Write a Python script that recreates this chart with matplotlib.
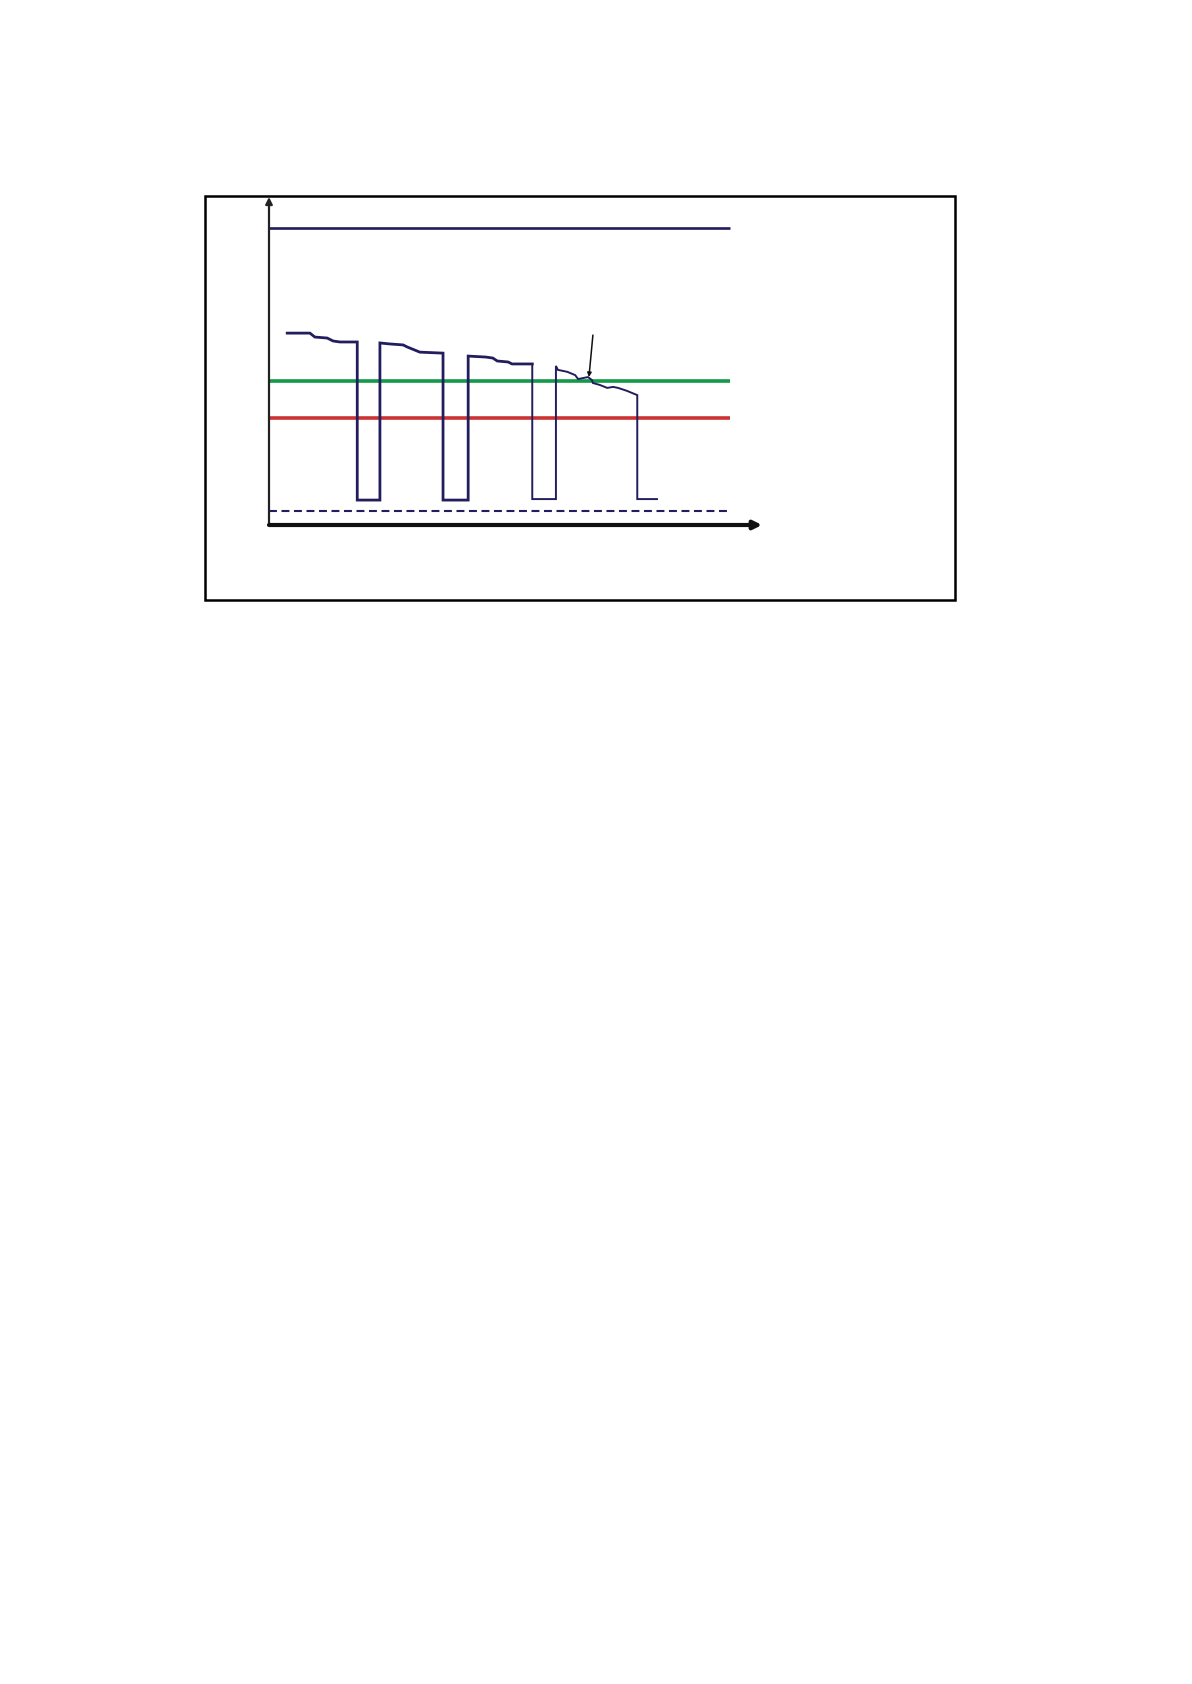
import matplotlib
matplotlib.use("Agg")
import matplotlib.pyplot as plt
from matplotlib.patches import Rectangle

# signal trace (time in % of axis, level in % of axis)
t_signal = [3.7, 8.3, 9.3, 11.8, 13.0, 14.4, 17.9, 17.9, 22.5, 22.5, 24.5, 27.2, 28.0,
            30.6, 35.3, 35.3, 40.4, 40.4, 44.0, 45.4, 46.3, 48.5, 49.3, 53.4]
v_signal = [58.5, 58.5, 57.3, 57.0, 56.1, 55.8, 55.8, 7.6, 7.6, 55.5, 55.2, 54.9, 54.3,
            52.7, 52.4, 7.6, 7.6, 51.5, 51.2, 50.9, 50.0, 49.7, 49.1, 49.1]
t_signal2 = [53.4, 53.4, 58.2, 58.2, 58.6, 60.5, 62.1, 62.7, 64.7, 65.5, 65.7, 67.1,
             68.6, 69.8, 70.8, 72.6, 74.7, 74.7, 78.7]
v_signal2 = [49.1, 7.9, 7.9, 48.5, 47.3, 46.7, 45.7, 44.5, 45.1, 44.2, 43.3, 42.7,
             41.8, 42.1, 41.8, 40.9, 39.6, 7.9, 7.9]

line_end = 93.5
upper_level = 90.5
green_level = 43.9
red_level = 32.6
floor_level = 4.3
arrow_from = (65.7, 57.9)
arrow_to = (64.9, 45.1)

navy = "#221d5e"

fig = plt.figure(figsize=(11.92, 16.84), dpi=100)
fig.patches.append(Rectangle((205 / 1192, 1 - 600 / 1684), 750 / 1192, 404 / 1684,
                             transform=fig.transFigure, fill=False,
                             edgecolor="black", linewidth=1.8))

ax = fig.add_axes([269 / 1192, 1 - 525 / 1684, 493 / 1192, 328 / 1684])
ax.set_xlim(0, 100)
ax.set_ylim(0, 100)
ax.axis("off")

ax.plot([0, line_end], [upper_level] * 2, color=navy, lw=1.9, solid_capstyle="butt")
ax.plot([0, line_end], [green_level] * 2, color="#139a48", lw=2.6, solid_capstyle="butt")
ax.plot([0, line_end], [red_level] * 2, color="#cc3333", lw=2.6, solid_capstyle="butt")
ax.plot([0, line_end], [floor_level] * 2, color=navy, lw=1.5, ls=(0, (3.8, 2.2)))

ax.plot(t_signal, v_signal, color=navy, lw=2.0, solid_joinstyle="miter")
ax.plot(t_signal2, v_signal2, color=navy, lw=1.4, solid_joinstyle="miter")

# axes arrows
ax.annotate("", xy=(0, 100), xytext=(0, 0),
            arrowprops=dict(arrowstyle="-|>", color="#222222", lw=1.6, mutation_scale=10,
                            shrinkA=0, shrinkB=0))
ax.annotate("", xy=(100, 0), xytext=(0, 0),
            arrowprops=dict(arrowstyle="-|>", color="#111111", lw=3.0, mutation_scale=12,
                            shrinkA=0, shrinkB=0))

ax.annotate("", xy=arrow_to, xytext=arrow_from,
            arrowprops=dict(arrowstyle="-|>", color="#111111", lw=1.1, mutation_scale=6,
                            shrinkA=0, shrinkB=0))

fig.savefig("out.png", dpi=100)
